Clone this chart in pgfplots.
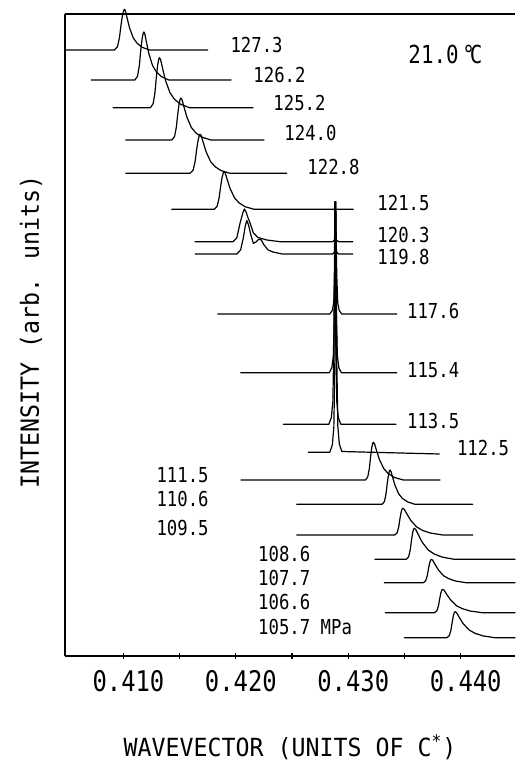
\documentclass[border=0pt]{standalone}
\usepackage{fontspec}
\setmainfont{DejaVu Sans Mono}[FakeStretch=0.84]
\newfontfamily\lab{DejaVu Sans Mono}[FakeStretch=0.93]
\usepackage{pgfplots}
\pgfplotsset{compat=1.18}
\tikzset{
  cur/.style={black, line width=0.6pt, line join=round, line cap=round},
  lbl/.style={anchor=west, inner sep=0pt, font=\fontsize{10.3}{10.3}\selectfont},
}
\begin{document}
\begin{tikzpicture}
\begin{axis}[
  name=ax,
  scale only axis,
  width=225pt, height=321pt,
  xmin=0.4048, xmax=0.44483,
  ymin=0, ymax=642,
  clip=false,
  axis x line=bottom, axis y line=left,
  axis line style={-, line width=0.6pt},
  ytick=\empty,
  xtick={0.41,0.42,0.43,0.44},
  minor xtick={0.415,0.425,0.435},
  xtick align=center,
  major tick length=3.2pt, minor tick length=3.2pt,
  tick style={line width=0.6pt, black},
  /pgf/number format/assume math mode=true,
  xticklabel style={font=\fontsize{14.2}{14.2}\selectfont, yshift=-2pt, xshift=2.5pt,
    /pgf/number format/.cd, fixed, fixed zerofill, precision=3},
  xlabel={\lab WAVEVECTOR (UNITS OF C\textsuperscript{*})},
  ylabel={\lab INTENSITY (arb. units)},
  x label style={at={(axis description cs:0.5,-0.1558)}, anchor=base, font=\fontsize{12.5}{12.5}\selectfont},
  y label style={at={(axis description cs:-0.0578,0.5047)}, anchor=base, font=\fontsize{12.5}{12.5}\selectfont},
]
% 127.3 MPa
\addplot[cur] coordinates {(0.40482,606) (0.409200,606) (0.409467,609.3) (0.409644,618.2) (0.409778,630.4) (0.409911,640.6) (0.410018,645.5) (0.410089,646.7) (0.410178,645.1) (0.410311,638.6) (0.410534,628.4) (0.410867,618.2) (0.411200,612.9) (0.411645,608.8) (0.412312,606) (0.41750,606)};
% 126.2
\addplot[cur] coordinates {(0.40713,576) (0.411013,576) (0.411253,579.8) (0.411413,590.4) (0.411533,604.8) (0.411653,616.8) (0.411749,622.6) (0.411813,624) (0.411902,622.1) (0.412035,614.4) (0.412258,602.4) (0.412591,590.4) (0.412924,584.2) (0.413369,579.4) (0.414036,576) (0.41958,576)};
% 125.2
\addplot[cur] coordinates {(0.40908,548.3) (0.412401,548.3) (0.412641,552.3) (0.412801,563.3) (0.412921,578.3) (0.413041,590.8) (0.413137,596.8) (0.413201,598.3) (0.413308,596.3) (0.413468,588.3) (0.413734,575.8) (0.414135,563.3) (0.414535,556.8) (0.415068,551.8) (0.415868,548.3) (0.42153,548.3)};
% 124.0
\addplot[cur] coordinates {(0.41021,516) (0.414303,516) (0.414543,519.4) (0.414703,528.6) (0.414823,541.2) (0.414943,551.7) (0.415039,556.7) (0.415103,558) (0.415210,556.3) (0.415370,549.6) (0.415636,539.1) (0.416037,528.6) (0.416437,523.1) (0.416970,518.9) (0.417770,516) (0.42251,516)};
% 122.8
\addplot[cur] coordinates {(0.41021,482.7) (0.415930,482.7) (0.416197,485.8) (0.416374,494.4) (0.416508,506.1) (0.416641,515.9) (0.416748,520.5) (0.416819,521.7) (0.416926,520.1) (0.417086,513.9) (0.417352,504.2) (0.417753,494.4) (0.418153,489.3) (0.418686,485.4) (0.419486,482.7) (0.42453,482.7)};
% 121.5
\addplot[cur] coordinates {(0.41430,446.7) (0.418064,446.7) (0.418331,449.7) (0.418508,458.0) (0.418642,469.3) (0.418775,478.7) (0.418882,483.2) (0.418953,484.3) (0.419060,482.8) (0.419220,476.8) (0.419486,467.4) (0.419887,458.0) (0.420287,453.1) (0.420820,449.3) (0.421620,446.7) (0.43045,446.7)};
% 120.3
\addplot[cur] coordinates {(0.416375,414.3) (0.419753,414.3) (0.420082,418) (0.420375,433) (0.420616,443) (0.420757,447) (0.420909,444) (0.421087,438) (0.421265,433) (0.421558,423) (0.421976,418.5) (0.422749,416) (0.423932,414.3) (0.4286,414.3) (0.428866,416.8) (0.429133,414.3) (0.430396,414.3)};
% 119.8
\addplot[cur] coordinates {(0.416375,402) (0.420082,402) (0.42042,406) (0.42066,418) (0.420838,430) (0.420971,435.5) (0.421131,431) (0.421309,422) (0.421558,412.7) (0.421798,414) (0.42202,416.7) (0.422243,416.2) (0.422509,411) (0.422865,406) (0.423309,404) (0.42411,402) (0.4286,402) (0.428866,405) (0.429133,402) (0.430396,402)};
% 117.6
\addplot[cur] coordinates {(0.418393,342) (0.428351,342) (0.428573,345.4) (0.428706,353.2) (0.428795,381.3) (0.428884,454.3) (0.428973,381.3) (0.429062,353.2) (0.429195,345.4) (0.429417,342) (0.434307,342)};
% 115.4
\addplot[cur] coordinates {(0.420438,283.3) (0.428316,283.3) (0.428538,288.4) (0.428671,300.4) (0.42876,343.2) (0.428849,454.3) (0.428938,343.2) (0.429027,300.4) (0.42916,288.4) (0.429382,283.3) (0.434307,283.3)};
% 113.5
\addplot[cur] coordinates {(0.424225,231.7) (0.428271,231.7) (0.428493,238.4) (0.428626,254.0) (0.428715,309.6) (0.428804,454.3) (0.428893,309.6) (0.428982,254.0) (0.429115,238.4) (0.429337,231.7) (0.434244,231.7)};
% 112.5
\addplot[cur] coordinates {(0.426448,203.7) (0.42836,203.7) (0.428582,211.2) (0.428715,228.8) (0.428804,291.4) (0.428893,454.3) (0.428982,292.2) (0.429071,229.6) (0.429204,212.0) (0.429426,204.5) (0.438095,202)};
% 111.5
\addplot[cur] coordinates {(0.420465,176) (0.431516,176) (0.431729,179) (0.431871,187.3) (0.431978,198.6) (0.432085,208) (0.432170,212.6) (0.432227,213.7) (0.432334,212.2) (0.432494,206.2) (0.432760,196.7) (0.433161,187.3) (0.433561,182.4) (0.434094,178.6) (0.434894,176) (0.438157,176)};
% 110.6
\addplot[cur] coordinates {(0.425417,151.7) (0.433001,151.7) (0.433214,154.4) (0.433356,162) (0.433463,172.3) (0.433570,180.9) (0.433655,185) (0.433712,186) (0.433801,184.6) (0.433934,179.1) (0.434157,170.6) (0.434490,162) (0.434823,157.5) (0.435268,154.1) (0.435935,151.7) (0.441065,151.7)};
% 109.5
\addplot[cur] coordinates {(0.425417,121) (0.434130,121) (0.434343,123.1) (0.434485,129) (0.434592,137) (0.434699,143.7) (0.434784,146.9) (0.434841,147.7) (0.434983,146.6) (0.435197,142.4) (0.435552,135.7) (0.436086,129) (0.436619,125.5) (0.437330,122.9) (0.438397,121) (0.441065,121)};
% 108.6
\addplot[cur] coordinates {(0.432378,96.7) (0.435153,96.7) (0.435366,99.2) (0.435508,106) (0.435615,115.3) (0.435722,123.1) (0.435807,126.8) (0.435864,127.7) (0.436006,126.5) (0.436220,121.5) (0.436575,113.8) (0.437109,106) (0.437642,102) (0.438353,98.9) (0.439420,96.7) (0.444826,96.7)};
% 107.7
\addplot[cur] coordinates {(0.433205,73.3) (0.436673,73.3) (0.436886,75.2) (0.437028,80.3) (0.437135,87.3) (0.437242,93.2) (0.437327,96) (0.437384,96.7) (0.437508,95.8) (0.437695,92) (0.438006,86.2) (0.438473,80.3) (0.438940,77.3) (0.439562,74.9) (0.440496,73.3) (0.444826,73.3)};
% 106.6
\addplot[cur] coordinates {(0.433295,43.3) (0.437669,43.3) (0.437882,45.2) (0.438024,50.3) (0.438131,57.3) (0.438238,63.2) (0.438323,66) (0.438380,66.7) (0.438522,65.8) (0.438736,62) (0.439091,56.2) (0.439625,50.3) (0.440158,47.3) (0.440869,44.9) (0.441936,43.3) (0.444826,43.3)};
% 105.7
\addplot[cur] coordinates {(0.434984,18.3) (0.438780,18.3) (0.438993,20.4) (0.439135,26.1) (0.439242,33.9) (0.439349,40.4) (0.439434,43.5) (0.439491,44.3) (0.439633,43.3) (0.439847,39.1) (0.440202,32.6) (0.440736,26.1) (0.441269,22.7) (0.441980,20.1) (0.443047,18.3) (0.444826,18.3)};
% top frame line
\draw[line width=0.6pt] (rel axis cs:0,1) -- (rel axis cs:1,1);
% labels
\node[lbl] at (axis cs:0.41949,611) {127.3};
\node[lbl] at (axis cs:0.42153,581) {126.2};
\node[lbl] at (axis cs:0.42331,553) {125.2};
\node[lbl] at (axis cs:0.42429,523) {124.0};
\node[lbl] at (axis cs:0.42633,489) {122.8};
\node[lbl] at (axis cs:0.43256,453) {121.5};
\node[lbl] at (axis cs:0.43256,421) {120.3};
\node[lbl] at (axis cs:0.43256,399) {119.8};
\node[lbl] at (axis cs:0.4352,345) {117.6};
\node[lbl] at (axis cs:0.4352,286) {115.4};
\node[lbl] at (axis cs:0.4352,235.3) {113.5};
\node[lbl] at (axis cs:0.43964,207.7) {112.5};
\node[lbl] at (axis cs:0.41291,181) {111.5};
\node[lbl] at (axis cs:0.41291,156.7) {110.6};
\node[lbl] at (axis cs:0.41291,127.7) {109.5};
\node[lbl] at (axis cs:0.42195,102) {108.6};
\node[lbl] at (axis cs:0.42195,77.7) {107.7};
\node[lbl] at (axis cs:0.42195,54) {106.6};
\node[lbl] at (axis cs:0.42195,29) {105.7 MPa};
\node[lbl, font=\fontsize{12.4}{12.4}\selectfont] at (axis cs:0.43532,602) {21.0\hspace{0.15em}°\hspace{-0.2em}C};
\end{axis}
\pgfresetboundingbox
\path ([xshift=-32.5pt,yshift=-52pt]ax.south west) rectangle ([yshift=7pt]ax.north east);
\end{tikzpicture}
\end{document}
